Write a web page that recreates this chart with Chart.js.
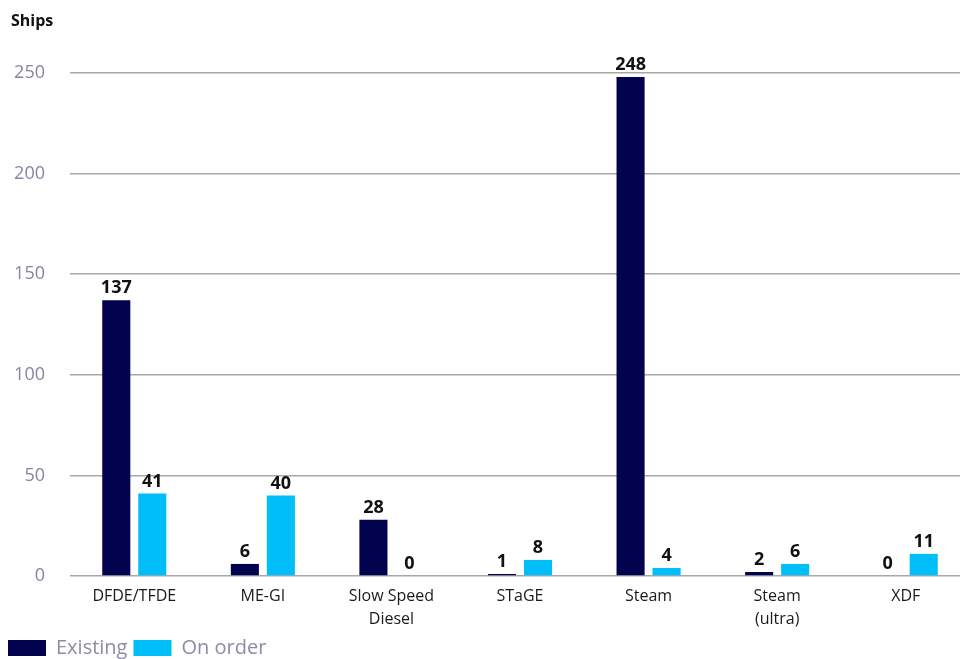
<!DOCTYPE html>
<html>
<head>
<meta charset="utf-8">
<script src="https://cdn.jsdelivr.net/npm/chart.js@4"></script>
<style>
  html, body { margin: 0; padding: 0; background: #fff; overflow: hidden; }
  #wrap { position: absolute; left: 2px; top: 0; width: 968px; height: 668px; }
</style>
</head>
<body>
<div id="wrap"><canvas id="shipChart"></canvas></div>
<script>
// Data
const categories = ['DFDE/TFDE', 'ME-GI', ['Slow Speed', 'Diesel'], 'STaGE', 'Steam', ['Steam', '(ultra)'], 'XDF'];
const existing = [137, 6, 28, 1, 248, 2, 0];
const onOrder = [41, 40, 0, 8, 4, 6, 11];
const yTicks = [0, 50, 100, 150, 200, 250];

const FONT = "'Open Sans', 'DejaVu Sans', sans-serif";

// Value labels above each bar
const valueLabels = {
  id: 'valueLabels',
  afterDatasetsDraw(chart) {
    const ctx = chart.ctx;
    ctx.save();
    ctx.font = 'bold 18px ' + FONT;
    ctx.fillStyle = '#111';
    ctx.textAlign = 'center';
    ctx.textBaseline = 'bottom';
    chart.data.datasets.forEach((ds, i) => {
      chart.getDatasetMeta(i).data.forEach((bar, j) => {
        ctx.fillText(ds.data[j], bar.x, bar.y - 3);
      });
    });
    ctx.restore();
  }
};

// "Ships" axis caption in the top left corner
const axisCaption = {
  id: 'axisCaption',
  afterDraw(chart) {
    const ctx = chart.ctx;
    ctx.save();
    ctx.font = 'bold 16px ' + FONT;
    ctx.fillStyle = '#111';
    ctx.textAlign = 'left';
    ctx.textBaseline = 'middle';
    ctx.fillText('Ships', 9, 21);
    ctx.restore();
  }
};

new Chart(document.getElementById('shipChart'), {
  type: 'bar',
  data: {
    labels: categories,
    datasets: [
      { label: 'Existing', data: existing, backgroundColor: '#02024f' },
      { label: 'On order', data: onOrder, backgroundColor: '#00bff8' }
    ]
  },
  options: {
    responsive: true,
    maintainAspectRatio: false,
    animation: false,
    layout: { padding: { top: 73, left: 0, right: 0, bottom: 0 } },
    datasets: {
      bar: { categoryPercentage: 0.56, barPercentage: 0.78 }
    },
    scales: {
      x: {
        grid: { display: false, drawTicks: false },
        border: { display: false },
        ticks: {
          color: '#1a1a1a',
          font: { family: FONT, size: 16, lineHeight: 1.45 },
          padding: 9,
          maxRotation: 0,
          autoSkip: false
        },
        afterFit(scale) { scale.height = 56; }
      },
      y: {
        min: 0,
        max: 250,
        afterBuildTicks(scale) { scale.ticks = yTicks.map(v => ({ value: v })); },
        grid: { color: '#a8a8a8', lineWidth: 1.5, drawTicks: false },
        border: { display: false },
        ticks: {
          color: '#8585a3',
          font: { family: FONT, size: 18 },
          padding: 25
        },
        afterFit(scale) { scale.width = 68; }
      }
    },
    plugins: {
      legend: {
        position: 'bottom',
        align: 'start',
        labels: {
          boxWidth: 38,
          boxHeight: 16,
          padding: 6,
          color: '#8c8ca6',
          font: { family: FONT, size: 20 }
        }
      },
      tooltip: { enabled: false }
    }
  },
  plugins: [valueLabels, axisCaption]
});
</script>
</body>
</html>
